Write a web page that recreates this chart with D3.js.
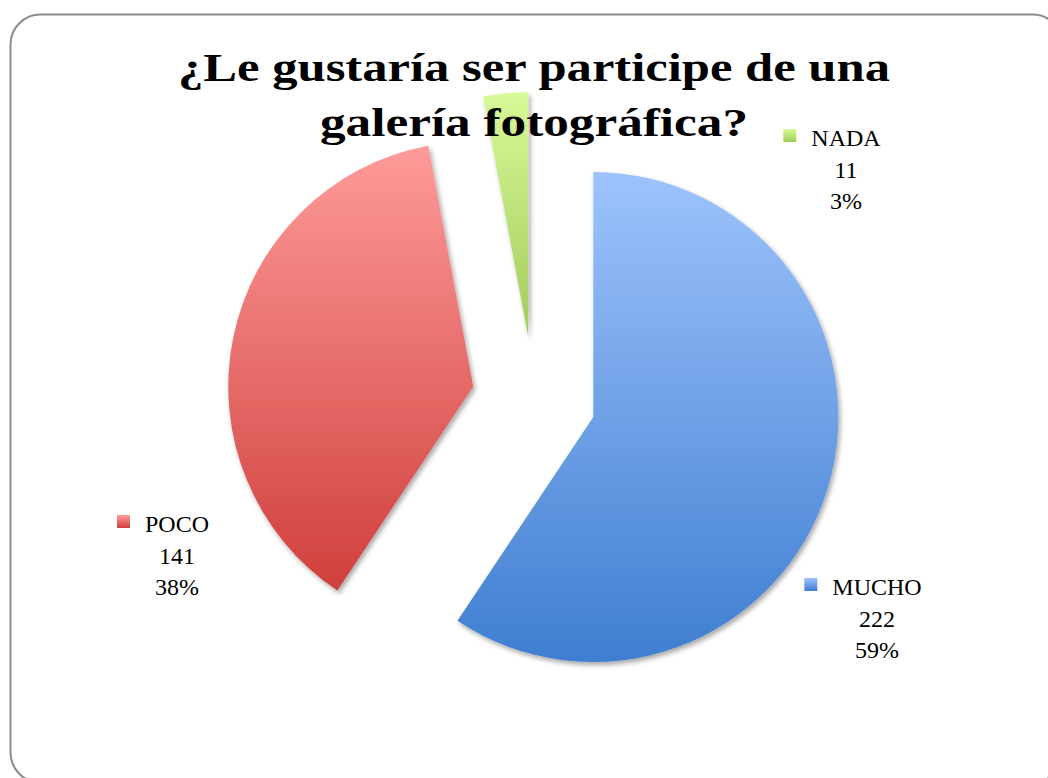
<!DOCTYPE html>
<html>
<head>
<meta charset="utf-8">
<script src="https://cdn.jsdelivr.net/npm/d3@7"></script>
<style>
  body { margin: 0; background: #fff; }
  svg { display: block; }
</style>
</head>
<body>
<svg id="chart" width="1048" height="778"></svg>
<script>
// data
const categories = ["MUCHO", "POCO", "NADA"];
const values = [222, 141, 11];
const percents = ["59%", "38%", "3%"];
const titleLines = ["¿Le gustaría ser participe de una", "galería fotográfica?"];

// gradient colours per slice (top, bottom)
const colorTop = ["#9dc3fc", "#fe9b9a", "#d8fa98"];
const colorBottom = ["#3f7ed0", "#cf3f3c", "#a2ca5a"];

// label layout (text centre x, first baseline y)
const labelPos = [[877, 595], [177, 532], [846, 146]];

const width = 1048, height = 778;
const cx = 534, cy = 399, radius = 245, explode = 62;

const svg = d3.select("#chart");
const defs = svg.append("defs");

categories.forEach((c, i) => {
	const g = defs.append("linearGradient")
								.attr("id", `grad${i}`)
								.attr("x1", 0).attr("y1", 0)
								.attr("x2", 0).attr("y2", 1);
	g.append("stop").attr("offset", "0%").attr("stop-color", colorTop[i]);
	g.append("stop").attr("offset", "100%").attr("stop-color", colorBottom[i]);
});

const shadow = defs.append("filter")
									.attr("id", "shadow")
									.attr("x", "-10%").attr("y", "-10%")
									.attr("width", "130%").attr("height", "130%");
shadow.append("feDropShadow")
			.attr("dx", 2).attr("dy", 3)
			.attr("stdDeviation", 2.5)
			.attr("flood-color", "#000")
			.attr("flood-opacity", 0.35);

// chart frame
svg.append("rect")
		.attr("x", 10.5)
		.attr("y", 14.5)
		.attr("width", 1052)
		.attr("height", 768)
		.attr("rx", 30)
		.attr("ry", 30)
		.attr("fill", "#fff")
		.attr("stroke", "#8c8c8c")
		.attr("stroke-width", 2);

// pie
const pie = d3.pie().sort(null).value(d => d);
const arcs = pie(values);
const arc = d3.arc().innerRadius(0).outerRadius(radius);

const pieG = svg.append("g")
								.attr("transform", `translate(${cx}, ${cy})`);

pieG.selectAll(".slice")
		.data(arcs)
		.enter()
		.append("path")
		.attr("class", "slice")
		.attr("d", arc)
		.attr("transform", d => {
			const mid = (d.startAngle + d.endAngle) / 2;
			return `translate(${Math.sin(mid) * explode}, ${-Math.cos(mid) * explode})`;
		})
		.attr("fill", (d, i) => `url(#grad${i})`)
		.attr("filter", "url(#shadow)");

// title
const titleG = svg.append("g")
									.attr("font-family", "'Liberation Serif', 'Times New Roman', serif")
									.attr("font-weight", "bold")
									.attr("font-size", "41px")
									.attr("fill", "#000");

const titleWidths = [712, 428];
titleLines.forEach((t, i) => {
	titleG.append("text")
				.attr("x", cx)
				.attr("y", 81 + i * 55)
				.attr("text-anchor", "middle")
				.attr("textLength", titleWidths[i])
				.attr("lengthAdjust", "spacingAndGlyphs")
				.text(t);
});

// data labels
const labelG = svg.append("g")
									.attr("font-family", "'Liberation Serif', 'Times New Roman', serif")
									.attr("font-size", "24px")
									.attr("fill", "#000");

categories.forEach((c, i) => {
	const [lx, ly] = labelPos[i];
	const lines = [c, String(values[i]), percents[i]];
	const g = labelG.append("g");
	lines.forEach((t, j) => {
		g.append("text")
			.attr("x", lx)
			.attr("y", ly + j * 31.5)
			.attr("text-anchor", "middle")
			.text(t);
	});
	const w = g.select("text").node().getComputedTextLength();
	g.append("rect")
		.attr("x", lx - w / 2 - 28)
		.attr("y", ly - 17)
		.attr("width", 13)
		.attr("height", 13)
		.attr("fill", `url(#grad${i})`);
});
</script>
</body>
</html>
